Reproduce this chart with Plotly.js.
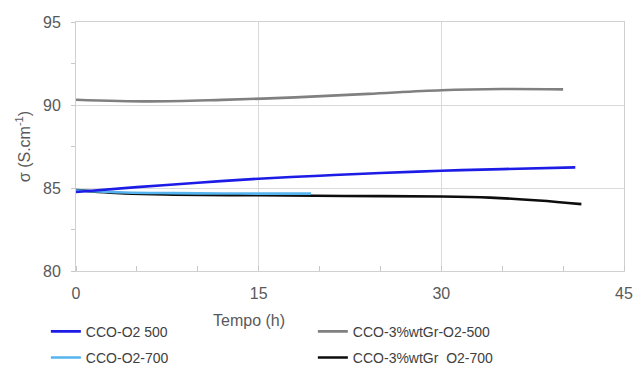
<!DOCTYPE html>
<html>
<head>
<meta charset="utf-8">
<script src="https://cdn.plot.ly/plotly-3.0.1.min.js"></script>
<style>html,body{margin:0;padding:0;background:#fff;}#chart{width:633px;height:365px;}</style>
</head>
<body>
<div id="chart"></div>
<script>
// Series names
const seriesNames = ["CCO-O2 500", "CCO-3%wtGr-O2-500", "CCO-O2-700", "CCO-3%wtGr  O2-700"];

// CCO-O2 500
const hoursO2_500 = [0, 5, 10, 15, 20, 25, 30, 35, 41];
const sigmaO2_500 = [84.76, 85.05, 85.32, 85.56, 85.74, 85.9, 86.04, 86.14, 86.24];

// CCO-3%wtGr-O2-500
const hoursGr_500 = [0, 6, 12, 18, 24, 30, 35, 40];
const sigmaGr_500 = [90.32, 90.22, 90.31, 90.46, 90.67, 90.89, 90.96, 90.94];

// CCO-O2-700
const hoursO2_700 = [0, 4, 8, 12, 16, 19.3];
const sigmaO2_700 = [84.85, 84.73, 84.69, 84.67, 84.66, 84.66];

// CCO-3%wtGr O2-700
const hoursGr_700 = [0, 4, 8, 15, 22, 30, 34, 38, 41.5];
const sigmaGr_700 = [84.87, 84.67, 84.6, 84.56, 84.52, 84.49, 84.42, 84.25, 84.03];

const xTicks = [0, 15, 30, 45];
const yTicks = [80, 85, 90, 95];

const colors = ["#1c1ce6", "#808080", "#55b4ee", "#0d0d0d"];

function tr(x, y, i, legend) {
  return {
    x: x, y: y, name: seriesNames[i], type: "scatter", mode: "lines",
    line: {color: colors[i], width: 2.6, shape: "spline", smoothing: 1},
    legend: legend, hoverinfo: "x+y+name"
  };
}

const data = [
  tr(hoursGr_700, sigmaGr_700, 3, "legend2"),
  tr(hoursO2_700, sigmaO2_700, 2, "legend2"),
  tr(hoursGr_500, sigmaGr_500, 1, "legend"),
  tr(hoursO2_500, sigmaO2_500, 0, "legend")
];

const fontFam = "Liberation Sans, Arial, sans-serif";
const legendCommon = {
  orientation: "h", xanchor: "left", yanchor: "middle", traceorder: "reversed",
  entrywidth: 222, entrywidthmode: "pixels",
  font: {family: fontFam, size: 14, color: "#404040"},
  bgcolor: "rgba(0,0,0,0)", borderwidth: 0, itemwidth: 30
};

const layout = {
  width: 633, height: 365,
  margin: {l: 76, r: 9, t: 22, b: 94, autoexpand: false},
  paper_bgcolor: "#ffffff", plot_bgcolor: "#ffffff",
  font: {family: fontFam, color: "#595959"},
  showlegend: true,
  xaxis: {
    range: [0, 45], tickvals: xTicks, ticktext: xTicks.map(String),
    showgrid: true, gridcolor: "#d9d9d9", gridwidth: 1,
    showline: true, linecolor: "#d0d0d0", linewidth: 1, mirror: true,
    zeroline: false, ticks: "", ticklabelstandoff: 8,
    minor: {dtick: 5, tick0: 0, ticks: "inside", ticklen: 5, tickcolor: "#c8c8c8", showgrid: false},
    tickfont: {family: fontFam, size: 16, color: "#595959"},
    fixedrange: true
  },
  yaxis: {
    range: [80, 95], tickvals: yTicks, ticktext: yTicks.map(String),
    showgrid: true, gridcolor: "#d9d9d9", gridwidth: 1,
    showline: true, linecolor: "#d0d0d0", linewidth: 1, mirror: true,
    zeroline: false, ticks: "outside", ticklen: 4, tickcolor: "#c8c8c8", ticklabelstandoff: 7,
    minor: {dtick: 2.5, tick0: 80, ticks: "outside", ticklen: 4, tickcolor: "#c8c8c8", showgrid: false},
    tickfont: {family: fontFam, size: 16, color: "#595959"},
    title: {text: "σ (S.cm<sup>-1</sup>)", font: {family: fontFam, size: 16, color: "#595959"}, standoff: 8},
    fixedrange: true
  },
  legend: Object.assign({x: -0.055, y: -0.244}, legendCommon),
  legend2: Object.assign({x: -0.055, y: -0.349}, legendCommon),
  annotations: [{
    text: "Tempo (h)", xref: "paper", yref: "paper", x: 0.316, y: -0.197,
    xanchor: "center", yanchor: "middle", showarrow: false,
    font: {family: fontFam, size: 16, color: "#595959"}
  }]
};

Plotly.newPlot("chart", data, layout, {displayModeBar: false, staticPlot: true});
</script>
</body>
</html>
